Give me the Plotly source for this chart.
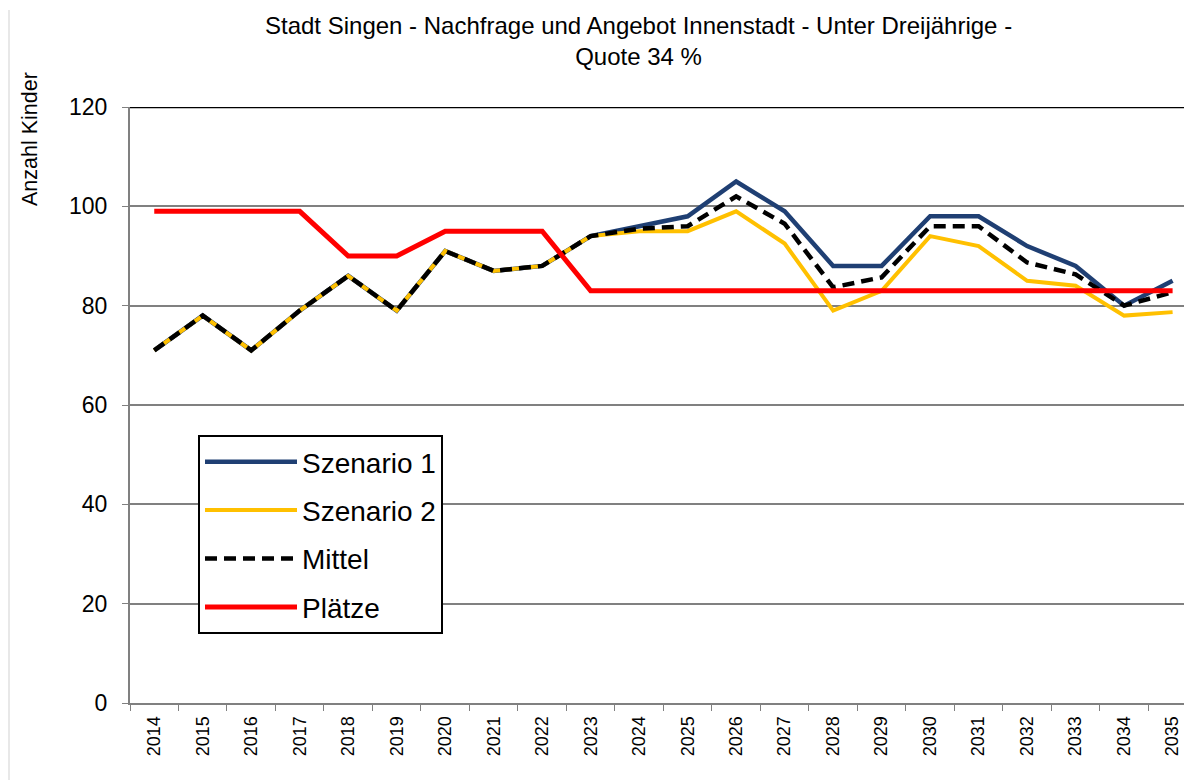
import plotly.graph_objects as go

years = [str(y) for y in range(2014, 2036)]
szenario1 = [71, 78, 71, 79, 86, 79, 91, 87, 88, 94, 96, 98, 105, 99, 88, 88, 98, 98, 92, 88, 80, 85]
szenario2 = [71, 78, 71, 79, 86, 79, 91, 87, 88, 94, 95, 95, 99, 92.5, 79, 83, 94, 92, 85, 84, 78, 78.7]
mittel = [71, 78, 71, 79, 86, 79, 91, 87, 88, 94, 95.5, 96, 102, 96.5, 83.7, 85.7, 96, 96, 88.7, 86.3, 80, 82.7]
plaetze = [99, 99, 99, 99, 90, 90, 95, 95, 95, 83, 83, 83, 83, 83, 83, 83, 83, 83, 83, 83, 83, 83]
y_ticks = [0, 20, 40, 60, 80, 100, 120]

title_line1 = "Stadt Singen - Nachfrage und Angebot Innenstadt - Unter Dreijährige -"
title_line2 = "Quote 34 %"
y_title = "Anzahl Kinder"

FONT = "Liberation Sans, Arial, sans-serif"

# page offset (default body margin of the html page)
OFF = 8
W, H = 1192 - OFF, 780 - OFF
L, R, T, B = 130 - OFF, 0, 107 - OFF, 77
PW, PH = W - L - R, H - T - B


def px(x):
    return (x - OFF - L) / PW


def py(y):
    return (H - B - (y - OFF)) / PH


fig = go.Figure()
series = [
    ("Szenario 1", szenario1, dict(color="#1F3F73", width=4.5)),
    ("Szenario 2", szenario2, dict(color="#FFC000", width=4)),
    ("Mittel", mittel, dict(color="#000000", width=4.5, dash="12px,7px")),
    ("Plätze", plaetze, dict(color="#FF0000", width=5)),
]
for name, vals, line in series:
    fig.add_trace(go.Scatter(x=years, y=vals, mode="lines", name=name, line=line,
                             legendgroup=name))

fig.update_layout(
    width=W, height=H,
    margin=dict(l=L, r=R, t=T, b=B, autoexpand=False),
    paper_bgcolor="white", plot_bgcolor="white",
    font=dict(family=FONT, color="#000000"),
    showlegend=True,
    legend=dict(
        x=px(198), y=py(435), xanchor="left", yanchor="top",
        bgcolor="white", bordercolor="#000000", borderwidth=2,
        font=dict(family=FONT, size=28, color="#000000"),
        tracegroupgap=9, itemwidth=92,
    ),
    xaxis=dict(
        type="category", range=[-0.5, 21.4], automargin=False,
        showgrid=False, showline=True, linecolor="#808080", linewidth=2,
        ticks="outside", ticklen=6, tickcolor="#808080", tickson="boundaries",
        tickangle=-90, tickfont=dict(family=FONT, size=18, color="#000000"),
        ticklabelstandoff=4,
        zeroline=False,
    ),
    yaxis=dict(
        range=[0, 120], tickvals=y_ticks, automargin=False,
        showgrid=True, gridcolor="#808080", gridwidth=1.8,
        showline=True, linecolor="#808080", linewidth=2,
        ticks="outside", ticklen=6, tickcolor="#808080",
        tickfont=dict(family=FONT, size=23, color="#000000"),
        ticklabelstandoff=10,
        zeroline=False,
    ),
    shapes=[
        dict(type="line", xref="paper", yref="y", x0=0, x1=1, y0=120, y1=120,
             line=dict(color="#000000", width=2.5)),
        dict(type="line", xref="paper", yref="paper", x0=px(9), x1=px(9),
             y0=py(780), y1=py(10),
             line=dict(color="#E0E0E0", width=1.5)),
    ],
    annotations=[
        dict(text=title_line1 + "<br>" + title_line2, xref="paper", yref="paper",
             x=px(638), y=py(10), xanchor="center", yanchor="top",
             showarrow=False, align="center",
             font=dict(family=FONT, size=24, color="#000000")),
        dict(text=y_title, xref="paper", yref="paper",
             x=px(30), y=py(139), xanchor="center", yanchor="middle",
             textangle=-90, showarrow=False,
             font=dict(family=FONT, size=21.5, color="#000000")),
    ],
)

fig.write_html("out.html")
